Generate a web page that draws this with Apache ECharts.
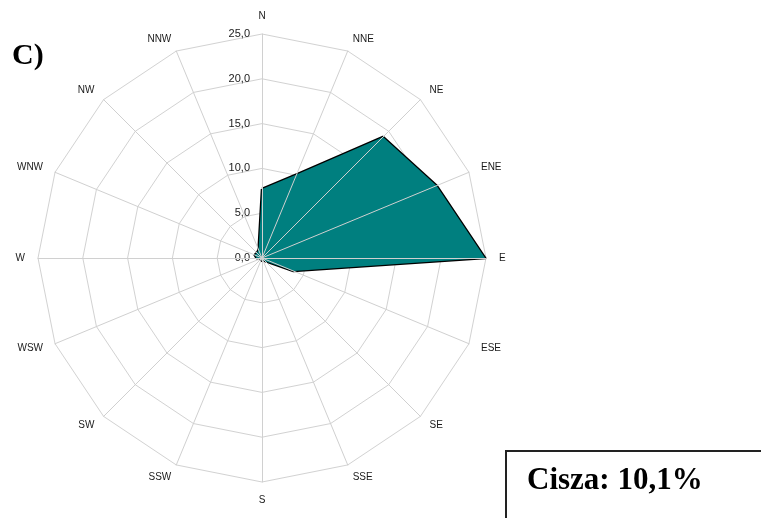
<!DOCTYPE html>
<html>
<head>
<meta charset="utf-8">
<script src="https://cdn.jsdelivr.net/npm/echarts@6/dist/echarts.min.js"></script>
<style>
html,body{margin:0;padding:0;background:#fff;}
#chart{width:761px;height:518px;}
</style>
</head>
<body>
<div id="chart"></div>
<script>
const directions = ['N','NNE','NE','ENE','E','ESE','SE','SSE','S','SSW','SW','WSW','W','WNW','NW','NNW'];
const frequencies = [7.7,10.1,19.1,21.1,24.9,3.8,0.5,0.3,0.3,0.2,0.2,0.3,0.6,0.9,0.8,1.0];
const axisMin = 0;
const axisMax = 25;
const splitCount = 5;
const panelLabel = 'C)';
const calmLabel = 'Cisza: 10,1%';

// ECharts radar lays indicators counter-clockwise; reorder for a clockwise compass
const order = [0];
for (let i = directions.length - 1; i >= 1; i--) order.push(i);

const fmt = v => Number(v).toFixed(1).replace('.', ',');

const indicatorsMain = order.map((idx, k) => {
  const o = { name: directions[idx], min: axisMin, max: axisMax };
  if (k === 0) o.axisLabel = { show: true };
  return o;
});
const indicatorsOverlay = order.map(idx => ({ name: directions[idx], min: axisMin, max: axisMax }));

const chart = echarts.init(document.getElementById('chart'), null, { renderer: 'canvas' });
chart.setOption({
  animation: false,
  backgroundColor: '#ffffff',
  radar: [
    {
      center: [262, 258],
      radius: 224,
      shape: 'polygon',
      splitNumber: splitCount,
      indicator: indicatorsMain,
      nameGap: 13,
      axisName: { color: '#1a1a1a', fontFamily: 'Liberation Sans', fontSize: 10 },
      axisLine: { show: false },
      splitLine: { lineStyle: { color: '#d2d2d2', width: 1 } },
      splitArea: { show: false },
      axisTick: { show: false },
      axisLabel: { show: false, formatter: fmt, color: '#1a1a1a', fontFamily: 'Liberation Sans', fontSize: 11, margin: 12 },
      z: 0
    },
    {
      center: [262, 258],
      radius: 224,
      shape: 'polygon',
      splitNumber: splitCount,
      indicator: indicatorsOverlay,
      axisName: { show: false },
      axisLine: { lineStyle: { color: '#d0d0d0', width: 1 } },
      splitLine: { show: false },
      splitArea: { show: false },
      axisTick: { show: false },
      axisLabel: { show: false },
      z: 5
    }
  ],
  series: [{
    type: 'radar',
    radarIndex: 0,
    symbol: 'none',
    z: 3,
    lineStyle: { color: '#000000', width: 2.5 },
    areaStyle: { color: '#007f7f', opacity: 1 },
    data: [{ value: order.map(idx => frequencies[idx]) }]
  }],
  graphic: [
    {
      type: 'text', left: 12, top: 41,
      style: { text: panelLabel, font: 'bold 30px "Liberation Serif"', fill: '#000' }
    },
    {
      type: 'rect', left: 505, top: 450,
      shape: { width: 300, height: 100 },
      style: { fill: '#fff', stroke: '#222', lineWidth: 2 }
    },
    {
      type: 'text', left: 527, top: 465,
      style: { text: calmLabel, font: 'bold 31px "Liberation Serif"', fill: '#000' }
    }
  ]
});
</script>
</body>
</html>
